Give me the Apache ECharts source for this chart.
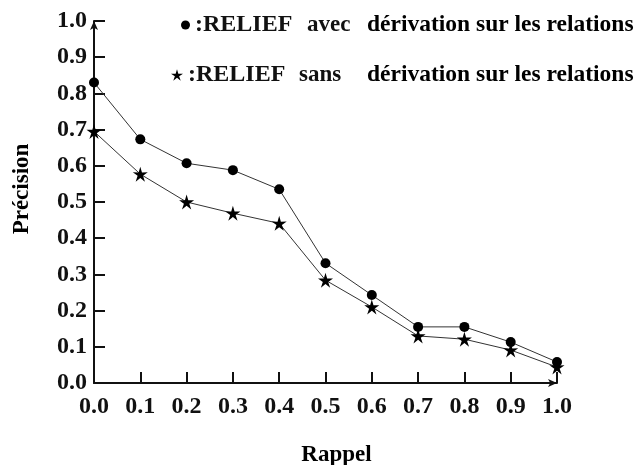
<!DOCTYPE html>
<html>
<head>
<meta charset="utf-8">
<script src="https://cdn.jsdelivr.net/npm/echarts@6/dist/echarts.min.js"></script>
<style>
  html, body { margin: 0; padding: 0; background: #fff; }
  #chart { width: 635px; height: 465px; }
</style>
</head>
<body>
<div id="chart"></div>
<script>
// Recall levels on the x axis
const rappel = [0.0, 0.1, 0.2, 0.3, 0.4, 0.5, 0.6, 0.7, 0.8, 0.9, 1.0];
// Precision of RELIEF with relation derivation
const avecDerivation = [0.83, 0.673, 0.607, 0.588, 0.535, 0.331, 0.243, 0.155, 0.155, 0.113, 0.058];
// Precision of RELIEF without relation derivation
const sansDerivation = [0.695, 0.577, 0.50, 0.469, 0.441, 0.284, 0.21, 0.13, 0.121, 0.091, 0.044];
// Tick labels for both axes
const tickLabels = ['0.0', '0.1', '0.2', '0.3', '0.4', '0.5', '0.6', '0.7', '0.8', '0.9', '1.0'];

const serif = 'Liberation Serif';
// Slim five-pointed star marker
const starPath = 'path://M50,0 L60.6,35.4 L97.6,34.5 L67.1,55.6 L79.4,90.5 L50,68 L20.6,90.5 L32.9,55.6 L2.4,34.5 L39.4,35.4 Z';

// Fixed-width text runs so that each legend column lines up
function legendRich(widthA, widthB) {
  return {
    a: { fontFamily: serif, fontWeight: 'bold', fontSize: 24, color: '#111', lineHeight: 26, width: widthA },
    b: { fontFamily: serif, fontWeight: 'bold', fontSize: 23, color: '#111', lineHeight: 26, width: widthB },
    d: { fontFamily: serif, fontWeight: 'bold', fontSize: 23.5, color: '#000', lineHeight: 26 }
  };
}
function legendLabel(name) {
  return '{a|:RELIEF}{b|' + name + '}{d|dérivation sur les relations}';
}

const chart = echarts.init(document.getElementById('chart'));

chart.setOption({
  animation: false,
  backgroundColor: '#fff',
  grid: { left: 94, right: 78, top: 21, bottom: 82, containLabel: false, outerBoundsMode: 'none' },
  legend: [
    {
      left: 181,
      top: 13,
      padding: 0,
      itemWidth: 9,
      itemHeight: 9,
      selectedMode: false,
      data: [{ name: 'avec', icon: 'circle', itemStyle: { color: '#000' } }],
      formatter: legendLabel,
      textStyle: { rich: legendRich(112, 60) }
    },
    {
      left: 171,
      top: 63,
      padding: 0,
      itemWidth: 12,
      itemHeight: 12,
      selectedMode: false,
      data: [{ name: 'sans', icon: starPath, itemStyle: { color: '#000' } }],
      formatter: legendLabel,
      textStyle: { rich: legendRich(111, 68) }
    }
  ],
  xAxis: {
    type: 'value',
    min: 0,
    max: 1,
    interval: 0.1,
    name: 'Rappel',
    nameLocation: 'middle',
    nameGap: 61,
    nameTextStyle: { fontFamily: serif, fontWeight: 'bold', fontSize: 23, color: '#000', padding: [0, 0, 0, 22] },
    axisLine: { show: true, symbol: ['none', 'arrow'], symbolSize: [6, 9], lineStyle: { color: '#111', width: 2 } },
    axisTick: { show: true, inside: true, length: 11, lineStyle: { color: '#111', width: 2 } },
    axisLabel: {
      margin: 12,
      fontFamily: serif, fontWeight: 'bold', fontSize: 24, color: '#111',
      formatter: function (v) { return tickLabels[Math.round(v * 10)]; }
    },
    splitLine: { show: false }
  },
  yAxis: {
    type: 'value',
    min: 0,
    max: 1,
    interval: 0.1,
    name: 'Précision',
    nameLocation: 'middle',
    nameGap: 60,
    nameRotate: 90,
    nameTextStyle: { fontFamily: serif, fontWeight: 'bold', fontSize: 23, color: '#000', padding: [0, 0, 0, 26] },
    axisLine: { show: true, symbol: ['none', 'arrow'], symbolSize: [6, 9], lineStyle: { color: '#111', width: 2 } },
    axisTick: { show: true, inside: true, length: 11, lineStyle: { color: '#111', width: 2 } },
    axisLabel: {
      margin: 7,
      fontFamily: serif, fontWeight: 'bold', fontSize: 24, color: '#111',
      formatter: function (v) { return tickLabels[Math.round(v * 10)]; }
    },
    splitLine: { show: false }
  },
  series: [
    {
      name: 'avec',
      type: 'line',
      data: rappel.map((x, i) => [x, avecDerivation[i]]),
      symbol: 'circle',
      symbolSize: 10,
      itemStyle: { color: '#000' },
      lineStyle: { color: '#333', width: 1 },
      z: 3
    },
    {
      name: 'sans',
      type: 'line',
      data: rappel.map((x, i) => [x, sansDerivation[i]]),
      symbol: starPath,
      symbolSize: 15,
      itemStyle: { color: '#000' },
      lineStyle: { color: '#333', width: 1 },
      z: 2
    }
  ]
});
</script>
</body>
</html>
